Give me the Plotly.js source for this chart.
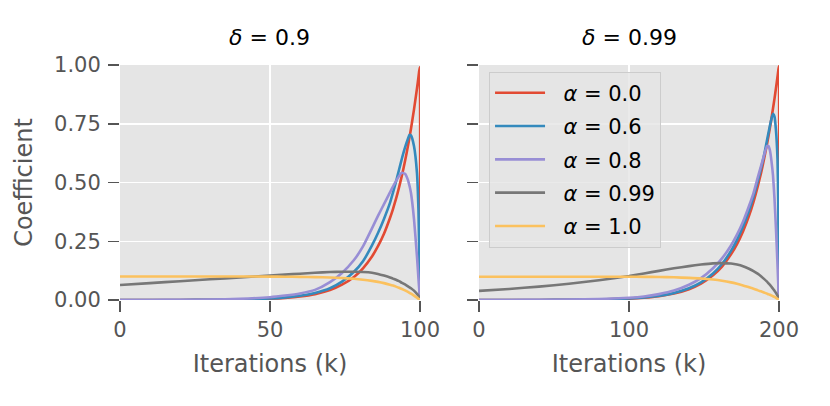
<!DOCTYPE html>
<html>
<head>
<meta charset="utf-8">
<script src="https://cdn.plot.ly/plotly-3.0.1.min.js"></script>
<style>
  html, body { margin: 0; padding: 0; background: #fff; }
  #myDiv { width: 830px; height: 406px; }
</style>
</head>
<body>
<div id="myDiv"></div>
<script>
// values
var alphaNames = ["0.0", "0.6", "0.8", "0.99", "1.0"];
var colors = ["#E24A33", "#348ABD", "#988ED5", "#777777", "#FBC15E"];

// delta = 0.9
var kLeft = [0, 10, 20, 30, 40, 50, 55, 60, 65, 70, 74, 78, 81, 84, 86, 88, 90, 91, 92, 93,
             94, 95, 96, 96.5, 97, 98, 99, 99.5, 99.9, 100];
var leftA00 = [0, 0.0001, 0.0002, 0.0006, 0.0018, 0.0052, 0.0087, 0.0148, 0.025, 0.042,
               0.065, 0.098, 0.135, 0.185, 0.229, 0.282, 0.349, 0.387, 0.43, 0.478,
               0.531, 0.59, 0.656, 0.692, 0.729, 0.81, 0.9, 0.949, 0.99, 0];
var leftA06 = [0, 0.0001, 0.0003, 0.0008, 0.0022, 0.0064, 0.011, 0.018, 0.03, 0.05,
               0.078, 0.12, 0.165, 0.232, 0.285, 0.345, 0.413, 0.457, 0.503, 0.553,
               0.603, 0.648, 0.686, 0.702, 0.70, 0.655, 0.54, 0.38, 0.1, 0];
var leftA08 = [0, 0.0003, 0.0008, 0.002, 0.005, 0.012, 0.019, 0.028, 0.043, 0.076,
               0.115, 0.17, 0.228, 0.305, 0.358, 0.408, 0.458, 0.483, 0.506, 0.527,
               0.541, 0.537, 0.51, 0.486, 0.455, 0.345, 0.185, 0.09, 0.02, 0];
var leftA099 = [0.064, 0.072, 0.08, 0.088, 0.096, 0.104, 0.108, 0.112, 0.116, 0.119,
                0.12, 0.12, 0.119, 0.116, 0.111, 0.104, 0.096, 0.091, 0.086, 0.08,
                0.073, 0.066, 0.058, 0.054, 0.05, 0.04, 0.026, 0.018, 0.01, 0.005];
var leftA10 = [0.1, 0.1, 0.1, 0.1, 0.1, 0.0995, 0.0991, 0.0985, 0.0975, 0.0958,
               0.0935, 0.0902, 0.0865, 0.0815, 0.0771, 0.0718, 0.0651, 0.0613, 0.057, 0.0522,
               0.0469, 0.041, 0.0344, 0.0308, 0.0271, 0.019, 0.01, 0.005, 0.001, 0];

// delta = 0.99
var kRight = [0, 20, 40, 60, 80, 100, 110, 120, 130, 140, 148, 156, 162, 168, 172, 176,
              180, 183, 186, 188, 190, 192, 193, 194, 195, 196, 197, 198, 199, 199.5, 199.9, 200];
var rightA00 = [0, 0.0001, 0.0003, 0.0008, 0.0021, 0.0059, 0.0099, 0.0165, 0.0276, 0.046,
                0.0695, 0.105, 0.142, 0.194, 0.238, 0.292, 0.358, 0.418, 0.488, 0.54,
                0.599, 0.663, 0.698, 0.735, 0.774, 0.815, 0.857, 0.9025, 0.95, 0.975, 0.995, 0];
var rightA06 = [0, 0.0001, 0.0003, 0.0009, 0.0023, 0.0064, 0.0107, 0.018, 0.03, 0.05,
                0.075, 0.113, 0.153, 0.209, 0.256, 0.313, 0.38, 0.44, 0.51, 0.56,
                0.615, 0.68, 0.712, 0.744, 0.772, 0.792, 0.78, 0.72, 0.6, 0.42, 0.12, 0];
var rightA08 = [0, 0.0003, 0.0008, 0.0018, 0.004, 0.0095, 0.015, 0.025, 0.04, 0.065,
                0.093, 0.135, 0.177, 0.232, 0.278, 0.333, 0.4, 0.455, 0.525, 0.57,
                0.615, 0.655, 0.655, 0.635, 0.59, 0.53, 0.43, 0.3, 0.15, 0.07, 0.015, 0];
var rightA099 = [0.039, 0.047, 0.057, 0.069, 0.084, 0.102, 0.113, 0.124, 0.135, 0.144,
                 0.151, 0.156, 0.157, 0.155, 0.151, 0.144, 0.133, 0.123, 0.111, 0.101,
                 0.09, 0.078, 0.071, 0.064, 0.056, 0.048, 0.039, 0.03, 0.019, 0.013, 0.008, 0.006];
var rightA10 = [0.099, 0.099, 0.099, 0.099, 0.099, 0.099, 0.0985, 0.098, 0.0965, 0.094,
                0.0915, 0.087, 0.082, 0.075, 0.069, 0.062, 0.054, 0.048, 0.041, 0.037,
                0.032, 0.027, 0.024, 0.022, 0.019, 0.016, 0.013, 0.009, 0.005, 0.003, 0.001, 0];

var yTicks = [0, 0.25, 0.5, 0.75, 1.0];
var yTickText = ["0.00", "0.25", "0.50", "0.75", "1.00"];

var leftSeries = [leftA00, leftA06, leftA08, leftA099, leftA10];
var rightSeries = [rightA00, rightA06, rightA08, rightA099, rightA10];

var font = "DejaVu Sans, Verdana, sans-serif";
var data = [];
leftSeries.forEach(function (ys, i) {
  data.push({
    x: kLeft, y: ys, xaxis: "x", yaxis: "y",
    type: "scatter", mode: "lines",
    line: { color: colors[i], width: 2.6, shape: "spline", smoothing: 0.5 },
    showlegend: false, hoverinfo: "skip"
  });
});
rightSeries.forEach(function (ys, i) {
  data.push({
    x: kRight, y: ys, xaxis: "x2", yaxis: "y2",
    type: "scatter", mode: "lines",
    // nbsp pads the gap between the legend swatch and its text
    name: "\u00a0\u00a0<i>α</i> = " + alphaNames[i],
    legendgroup: "g" + i,
    line: { color: colors[i], width: 2.6, shape: "spline", smoothing: 0.5 },
    hoverinfo: "skip"
  });
});

var tickFont = { family: font, size: 21, color: "#555555" };
var titleFont = { family: font, size: 24, color: "#555555" };

function xAxis(domain, range, vals, anchor) {
  return {
    domain: domain, range: range, anchor: anchor,
    tickvals: vals, ticks: "outside", ticklen: 11, tickwidth: 1.5, tickcolor: "#555555",
    ticklabelstandoff: 0,
    showgrid: true, gridcolor: "#ffffff", gridwidth: 1.5,
    zeroline: false, showline: false, tickfont: tickFont,
    title: { text: "Iterations (k)", font: titleFont, standoff: 13 }
  };
}

var layout = {
  width: 830, height: 406,
  margin: { l: 120, r: 51, t: 65, b: 106 },
  paper_bgcolor: "#ffffff",
  plot_bgcolor: "#E5E5E5",
  font: { family: font },
  xaxis: xAxis([0, 0.4552], [0, 100], [0, 50, 100], "y"),
  xaxis2: xAxis([0.5448, 1], [0, 200], [0, 100, 200], "y2"),
  yaxis: {
    domain: [0, 1], range: [0, 1], anchor: "x",
    tickvals: yTicks, ticktext: yTickText,
    ticks: "outside", ticklen: 11, tickwidth: 1.5, tickcolor: "#555555",
    ticklabelstandoff: 3,
    showgrid: true, gridcolor: "#ffffff", gridwidth: 1.5,
    zeroline: false, showline: false, tickfont: tickFont,
    title: { text: "Coefficient", font: titleFont, standoff: 14 }
  },
  yaxis2: {
    domain: [0, 1], range: [0, 1], anchor: "x2",
    tickvals: yTicks, showticklabels: false,
    ticks: "outside", ticklen: 11, tickwidth: 1.5, tickcolor: "#555555",
    showgrid: true, gridcolor: "#ffffff", gridwidth: 1.5,
    zeroline: false, showline: false
  },
  showlegend: true,
  legend: {
    x: 0.56, y: 0.972, xanchor: "left", yanchor: "top",
    bgcolor: "rgba(229,229,229,0.8)", bordercolor: "#CCCCCC", borderwidth: 1,
    font: { family: font, size: 21, color: "#000000" },
    tracegroupgap: 3, itemwidth: 50
  },
  annotations: [
    { text: "<i>δ</i> = 0.9", xref: "paper", yref: "paper", x: 0.2276, y: 1.119,
      xanchor: "center", yanchor: "middle", showarrow: false,
      font: { family: font, size: 22, color: "#000000" } },
    { text: "<i>δ</i> = 0.99", xref: "paper", yref: "paper", x: 0.7724, y: 1.119,
      xanchor: "center", yanchor: "middle", showarrow: false,
      font: { family: font, size: 22, color: "#000000" } }
  ]
};

Plotly.newPlot("myDiv", data, layout, { staticPlot: true, displayModeBar: false });
</script>
</body>
</html>
